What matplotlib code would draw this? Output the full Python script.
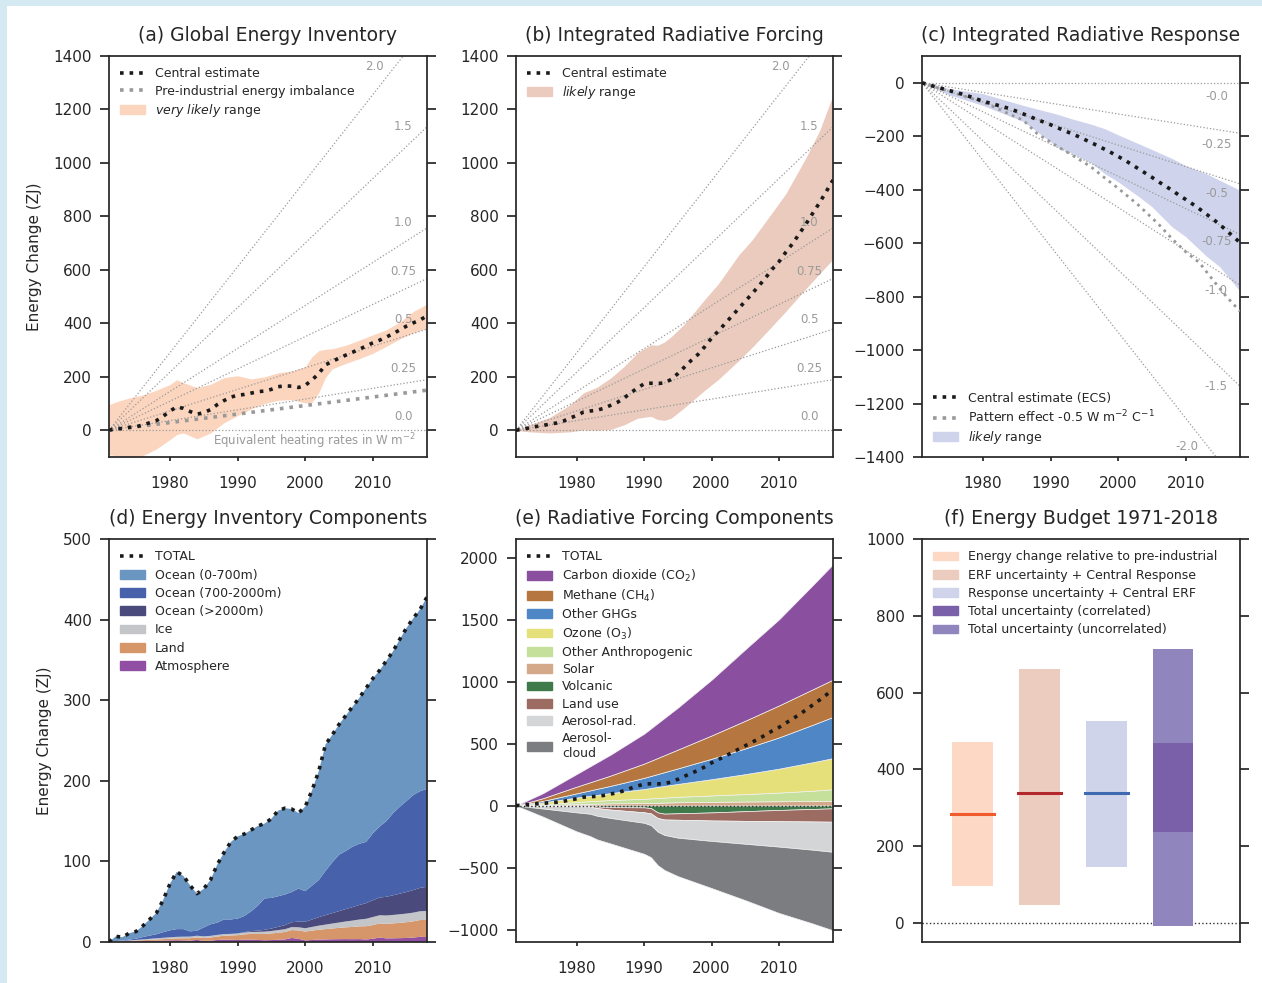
import numpy as np
import matplotlib
matplotlib.use('Agg')
import matplotlib.pyplot as plt
import matplotlib.patches as mpatches
from matplotlib.lines import Line2D

plt.rcParams['font.family'] = ['DejaVu Sans']
plt.rcParams['mathtext.fontset'] = 'dejavusans'
plt.rcParams['text.color'] = '#262626'
plt.rcParams['axes.labelcolor'] = '#262626'
plt.rcParams['xtick.color'] = '#262626'
plt.rcParams['ytick.color'] = '#262626'
plt.rcParams['axes.edgecolor'] = '#262626'
plt.rcParams['axes.linewidth'] = 1.25

years = np.arange(1971, 2019)

# (a) global energy inventory, ZJ (also the TOTAL in (d))
inventory_total = [0, 7, 6, 11, 13, 20, 28, 36, 52, 72,
                   87, 82, 70, 60, 66, 77, 96, 111, 124, 131,
                   134, 139, 144, 147, 153, 163, 166, 165, 160, 168,
                   188, 212, 245, 257, 270, 281, 292, 303, 315, 327,
                   337, 349, 361, 376, 390, 402, 413, 428]
inv_band_years = [1971, 1972, 1974, 1976, 1978, 1980, 1981, 1982, 1984, 1986, 1988, 1990, 1992, 1994,
                  1996, 1998, 2000, 2001, 2002, 2003, 2004, 2006, 2008, 2010, 2012, 2014, 2016, 2018]
inv_band_high = [96, 106, 121, 132, 150, 171, 189, 178, 160, 172, 197, 204, 192, 200,
                 215, 222, 238, 275, 298, 303, 305, 318, 337, 357, 376, 405, 445, 472]
inv_band_low = [-91, -95, -103, -95, -70, -35, -16, -10, -32, -10, 28, 55, 80, 100,
                112, 115, 102, 105, 140, 198, 230, 250, 268, 288, 314, 342, 365, 382]
preind_years = [1971, 2018]
preind_imbalance = [0, 150]

# (b) integrated effective radiative forcing, ZJ (also the TOTAL in (e))
erf_central = [0, 4, 9, 14, 18, 23, 27, 34, 46, 55,
               68, 72, 75, 82, 93, 104, 120, 140, 158, 174,
               176, 175, 177, 190, 212, 237, 262, 284, 313, 345,
               371, 399, 427, 455, 483, 511, 540, 570, 603, 631,
               666, 698, 735, 772, 812, 851, 893, 936]
erf_band_years = [1971, 1973, 1976, 1979, 1981, 1983, 1985, 1987, 1989, 1991, 1992, 1993,
                  1994, 1996, 1999, 2001, 2004, 2006, 2009, 2011, 2014, 2016, 2018]
erf_band_high = [0, 21, 48, 95, 140, 161, 195, 238, 290, 320, 318, 330,
                 350, 398, 490, 548, 655, 712, 815, 885, 1020, 1120, 1254]
erf_band_low = [0, -6, -10, -6, 1, 0, 3, 20, 45, 52, 40, 37,
                45, 85, 150, 190, 260, 310, 390, 445, 530, 585, 640]

# (c) integrated radiative response, ZJ
resp_central = [0, -8, -15, -22, -29, -36, -43, -51, -60, -69,
                -76, -83, -90, -97, -107, -117, -127, -138, -147, -157,
                -168, -179, -189, -200, -212, -224, -236, -249, -262, -276,
                -290, -306, -322, -338, -354, -371, -387, -403, -421, -437,
                -454, -472, -491, -510, -530, -553, -575, -598]
resp_band_years = [1971, 1975, 1980, 1986, 1991, 1993, 1996, 1998, 2000, 2003, 2005, 2008, 2010, 2013, 2015, 2018]
resp_band_high = [0, -22, -41, -85, -118, -134, -155, -172, -195, -228, -250, -284, -310, -340, -365, -402]
resp_band_low = [0, -45, -85, -145, -240, -262, -300, -340, -371, -425, -464, -540, -576, -648, -688, -780]
pattern_years = [1971, 1975, 1980, 1986, 1988, 1991, 1993, 1996, 1998, 2000, 2003, 2006, 2008, 2010, 2012, 2014, 2016, 2018]
pattern_effect = [0, -32, -72, -141, -190, -238, -268, -315, -356, -395, -458, -530, -585, -633, -673, -738, -800, -855]

# (d) energy inventory components, ZJ
atmosphere = [0, 0.3, 0.5, 0.8, 1.0, 1.2, 1.4, 1.6, 1.8, 2.0,
              2.2, 2.0, 1.8, 2.6, 1.5, 1.7, 2.5, 3.0, 2.8, 2.5,
              3.0, 3.0, 2.5, 2.2, 2.4, 2.8, 3.2, 5.0, 4.0, 2.0,
              2.5, 3.0, 3.2, 3.4, 3.5, 3.6, 3.5, 3.6, 3.2, 4.0,
              5.5, 4.5, 4.6, 4.8, 5.0, 5.5, 6.5, 6.0]
land = [0, 0.2, 0.4, 0.6, 0.8, 1.0, 1.3, 1.6, 1.8, 2.0,
        2.3, 2.6, 2.9, 3.2, 3.5, 3.9, 4.3, 4.8, 5.3, 6.0,
        6.5, 7.0, 7.4, 7.8, 8.2, 8.7, 9.2, 9.8, 10.4, 11.0,
        11.6, 12.2, 12.8, 13.4, 14.0, 14.6, 15.2, 15.8, 16.4, 17.0,
        17.5, 18.0, 18.5, 19.0, 19.6, 20.2, 20.8, 21.5]
ice = [0, 0.2, 0.4, 0.6, 0.8, 1.0, 1.2, 1.4, 1.6, 1.8,
       1.9, 2.0, 2.0, 2.0, 2.0, 2.0, 2.0, 2.0, 2.0, 2.1,
       2.3, 2.5, 2.7, 2.9, 3.1, 3.3, 3.5, 3.7, 3.9, 4.1,
       4.6, 5.1, 5.6, 6.1, 6.7, 7.3, 7.9, 8.5, 9.2, 10.0,
       10.2, 10.4, 10.5, 10.6, 10.7, 10.8, 10.9, 11.0]
ocean_deep = [0, 0, 0, 0, 0, 0, 0, 0, 0, 0,
              0, 0, 0, 0, 0, 0, 0, 0, 0, 0,
              0.5, 1.0, 1.5, 2.2, 3.0, 4.0, 5.0, 6.0, 7.0, 8.0,
              9.2, 10.5, 11.7, 12.9, 14.1, 15.4, 16.7, 18.0, 19.4, 20.8,
              22.0, 23.2, 24.4, 25.6, 26.8, 28.0, 29.0, 30.0]
ocean_mid = [0, 0.3, 0.5, 1, 1.5, 3, 4, 5, 7, 8.7,
             9.6, 9.4, 6.5, 6.2, 11, 14.4, 15.2, 18.2, 17.9, 18.4,
             20, 24.5, 31, 39, 38, 38, 38, 37.5, 41, 38,
             42, 46, 55, 63, 70, 72, 75, 76, 76, 83,
             88, 94, 102, 108, 113, 118, 120, 121.5]

# (e) radiative forcing components, integrated, ZJ
forc_pos_years = [1971, 1975, 1980, 1985, 1990, 1995, 2000, 2005, 2010, 2015, 2018]
solar = [0, 5, 12, 18, 20, 27, 30, 33, 35, 37, 38]
other_anthro = [0, 7, 17, 27, 35, 44, 52, 60, 70, 83, 94]
ozone = [0, 14, 36, 56, 79, 104, 131, 161, 193, 230, 251]
other_ghg = [0, 12, 34, 58, 90, 125, 165, 207, 252, 302, 332]
methane = [0, 22, 54, 83, 115, 152, 188, 224, 258, 286, 301]
co2 = [0, 40, 102, 168, 241, 338, 449, 575, 694, 840, 930]
forc_neg_years = [1971, 1975, 1980, 1982, 1983, 1985, 1990, 1991, 1992, 1993, 1995, 2000, 2005, 2010, 2015, 2018]
volcanic = [0, 0, 0, 0, -8, -12, -14, -20, -55, -65, -62, -55, -45, -35, -27, -22]
land_use = [0, -2, -5, -8, -12, -20, -40, -43, -45, -47, -52, -65, -78, -91, -101, -108]
aerosol_rad = [0, -22, -50, -58, -62, -68, -85, -95, -110, -125, -145, -165, -185, -205, -228, -243]
aerosol_cloud = [0, -65, -153, -180, -190, -205, -250, -258, -270, -282, -310, -380, -455, -535, -595, -633]

# (f) energy budget 1971-2018, ZJ
budget_low = [96, 46, 145, -9]
budget_high = [471, 661, 526, 714]
budget_central = [284, 339, 339]
correlated_range = [236, 468]

heat_rates = [0.0, 0.25, 0.5, 0.75, 1.0, 1.5, 2.0]
ZJ_PER_WM2_YEAR = 16.1   # 1 W m-2 over the Earth's surface for one year

W, H = 1262, 983
fig = plt.figure(figsize=(W / 100, H / 100), dpi=100)
fig.patch.set_facecolor('white')
fig.add_artist(mpatches.Rectangle((0, 1 - 6 / H), 1, 6 / H, transform=fig.transFigure,
                                  facecolor='#d5e9f2', edgecolor='none'))
fig.add_artist(mpatches.Rectangle((0, 0), 7 / W, 1, transform=fig.transFigure,
                                  facecolor='#d5e9f2', edgecolor='none'))


def add_ax(left, top, right, bottom):
    return fig.add_axes([left / W, 1 - bottom / H, (right - left) / W, (bottom - top) / H])


def style(ax, title, ylim, yticks, time_axis=True):
    ax.set_title(title, fontsize=13.5, pad=11)
    ax.set_ylim(*ylim)
    ax.set_yticks(yticks)
    ax.tick_params(axis='y', left=True, right=True, direction='out', length=6.5,
                   width=1.25, labelsize=11, pad=6)
    if time_axis:
        ax.set_xlim(1971, 2018)
        ax.set_xticks([1980, 1990, 2000, 2010])
        ax.tick_params(axis='x', direction='out', length=3, width=1.25, labelsize=11, pad=11)
    else:
        ax.set_xticks([])


def heat_fan(ax, sign):
    for r in heat_rates:
        ax.plot([1971, 2018], [0, sign * r * ZJ_PER_WM2_YEAR * 47], ls=':', lw=0.9,
                color='#9a9a9a', zorder=2)
        xl = 2010.2 if r == 2.0 else 2014.5
        yl = sign * (r * ZJ_PER_WM2_YEAR * (xl - 1971) + 50 + 25 * r)
        lab = ('-' if sign < 0 else '') + ('%g' % r if r not in (0.0, 1.0, 2.0) else '%.1f' % r)
        ax.text(xl, yl, lab, fontsize=8.5, color='#9a9a9a', ha='center', va='center', zorder=2)


leg_kw = dict(frameon=False, fontsize=9, labelspacing=0.42, handlelength=2.0,
              handletextpad=0.8, borderaxespad=0.5)
dots = dict(ls=':', lw=2.6, color='#1a1a1a')

# ---- (a) ----
ax = add_ax(109, 56, 427, 457)
ax.fill_between(inv_band_years, inv_band_low, inv_band_high, color='#fcd5bf', lw=0, zorder=1)
heat_fan(ax, 1)
ax.plot(preind_years, preind_imbalance, ls=':', lw=2.6, color='#999999', zorder=3)
ax.plot(years, inventory_total, zorder=4, **dots)
ax.text(2016.3, -41, r'Equivalent heating rates in W m$^{-2}$', fontsize=8.5, color='#9a9a9a',
        ha='right', va='center')
style(ax, '(a) Global Energy Inventory', (-100, 1400), range(0, 1401, 200))
ax.set_ylabel('Energy Change (ZJ)', fontsize=11, labelpad=8)
ax.legend([Line2D([], [], **dots), Line2D([], [], ls=':', lw=2.6, color='#999999'),
           mpatches.Patch(color='#fcd5bf')],
          ['Central estimate', 'Pre-industrial energy imbalance', r'$\it{very\ likely}$ range'],
          loc='upper left', **dict(leg_kw, labelspacing=0.34))

# ---- (b) ----
ax = add_ax(516, 56, 833, 457)
ax.fill_between(erf_band_years, erf_band_low, erf_band_high, color='#ebcbbe', lw=0, zorder=1)
heat_fan(ax, 1)
ax.plot(years, erf_central, zorder=4, **dots)
style(ax, '(b) Integrated Radiative Forcing', (-100, 1400), range(0, 1401, 200))
ax.legend([Line2D([], [], **dots), mpatches.Patch(color='#ebcbbe')],
          ['Central estimate', r'$\it{likely}$ range'], loc='upper left', **dict(leg_kw, labelspacing=0.3))

# ---- (c) ----
ax = add_ax(922, 56, 1240, 457)
ax.fill_between(resp_band_years, resp_band_low, resp_band_high, color='#cfd3eb', lw=0, zorder=1)
heat_fan(ax, -1)
ax.plot(pattern_years, pattern_effect, ls=':', lw=2.0, color='#999999', zorder=3)
ax.plot(years, resp_central, zorder=4, **dots)
style(ax, '(c) Integrated Radiative Response', (-1400, 100), range(-1400, 1, 200))
ax.legend([Line2D([], [], **dots), Line2D([], [], ls=':', lw=2.6, color='#999999'),
           mpatches.Patch(color='#cfd3eb')],
          ['Central estimate (ECS)', r'Pattern effect -0.5 W m$^{-2}$ C$^{-1}$', r'$\it{likely}$ range'],
          loc='lower left', **dict(leg_kw, labelspacing=0.3))

# ---- (d) ----
ax = add_ax(109, 539, 427, 942)
ocean_upper = (np.array(inventory_total) - np.array(atmosphere) - np.array(land) - np.array(ice)
               - np.array(ocean_deep) - np.array(ocean_mid))
inv_colors = ['#914fa3', '#d6966a', '#c4c5c9', '#4a4a7c', '#4762ab', '#6a96c1']
ax.stackplot(years, atmosphere, land, ice, ocean_deep, ocean_mid, ocean_upper,
             colors=inv_colors, lw=0)
ax.plot(years, inventory_total, zorder=4, **dots)
style(ax, '(d) Energy Inventory Components', (0, 500), range(0, 501, 100))
ax.set_ylabel('Energy Change (ZJ)', fontsize=11, labelpad=8)
inv_names = ['Ocean (0-700m)', 'Ocean (700-2000m)', 'Ocean (>2000m)', 'Ice', 'Land', 'Atmosphere']
ax.legend([Line2D([], [], **dots)] + [mpatches.Patch(color=c) for c in inv_colors[::-1]],
          ['TOTAL'] + inv_names, loc='upper left', **leg_kw)

# ---- (e) ----
ax = add_ax(516, 539, 833, 942)
pos_colors = ['#d4a98a', '#c5e09b', '#e5e07a', '#4f86c6', '#b5763f', '#8a4f9e']
neg_colors = ['#3f7a4a', '#9c6b62', '#d4d5d7', '#7c7d80']
ax.stackplot(forc_pos_years, solar, other_anthro, ozone, other_ghg, methane, co2,
             colors=pos_colors, lw=0.5, edgecolor='#f2f2f2')
ax.stackplot(forc_neg_years, volcanic, land_use, aerosol_rad, aerosol_cloud,
             colors=neg_colors, lw=0.5, edgecolor='#f2f2f2')
ax.axhline(0, ls=':', lw=1.0, color='#333333', zorder=3)
ax.plot(years, erf_central, zorder=4, **dots)
style(ax, '(e) Radiative Forcing Components', (-1100, 2150), range(-1000, 2001, 500))
forc_names = ['Carbon dioxide (CO$_2$)', 'Methane (CH$_4$)', 'Other GHGs', 'Ozone (O$_3$)',
              'Other Anthropogenic', 'Solar', 'Volcanic', 'Land use', 'Aerosol-rad.', 'Aerosol-\ncloud']
forc_colors = pos_colors[::-1] + neg_colors
ax.legend([Line2D([], [], **dots)] + [mpatches.Patch(color=c) for c in forc_colors],
          ['TOTAL'] + forc_names, loc='upper left', **dict(leg_kw, labelspacing=0.34))

# ---- (f) ----
ax = add_ax(922, 539, 1240, 942)
bar_fill = ['#fdd8c4', '#ecccbf', '#d0d4ea', '#9086bd']
line_cols = ['#f05a2c', '#b3282d', '#3f69b1']
xpos = np.arange(len(budget_low)) + 0.75
ax.bar(xpos, np.array(budget_high) - np.array(budget_low), bottom=budget_low, width=0.61,
       color=bar_fill, lw=0, zorder=2)
ax.bar(xpos[3], correlated_range[1] - correlated_range[0], bottom=correlated_range[0], width=0.61,
       color='#7a60a9', lw=0, zorder=3)
for x, c, col in zip(xpos, budget_central, line_cols):
    ax.plot([x - 0.32, x + 0.32], [c, c], color=col, lw=2.2, zorder=4)
ax.axhline(0, ls=':', lw=1.0, color='#333333', zorder=1)
ax.set_xlim(0, 4.75)
style(ax, '(f) Energy Budget 1971-2018', (-50, 1000), range(0, 1001, 200), time_axis=False)
budget_names = ['Energy change relative to pre-industrial', 'ERF uncertainty + Central Response',
                'Response uncertainty + Central ERF', 'Total uncertainty (correlated)',
                'Total uncertainty (uncorrelated)']
ax.legend([mpatches.Patch(color=c) for c in ['#fdd8c4', '#ecccbf', '#d0d4ea', '#7a60a9', '#9086bd']],
          budget_names, loc='upper left', **leg_kw)

fig.savefig('out.png', dpi=100, facecolor='white')
